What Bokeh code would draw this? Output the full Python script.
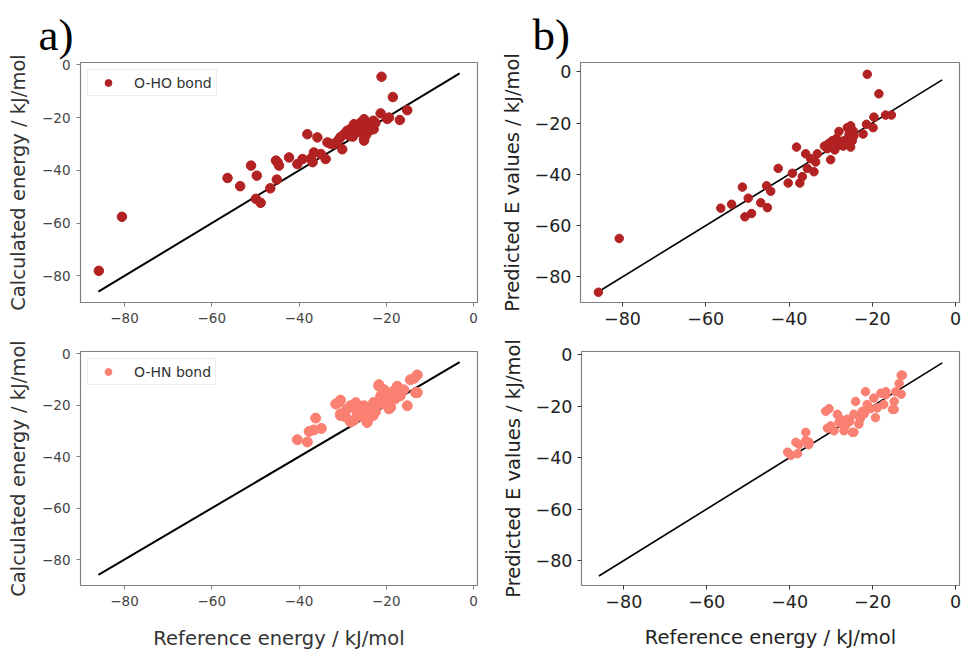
from bokeh.plotting import figure
from bokeh.layouts import column, row
from bokeh.models import FixedTicker, Legend, LegendItem, Title
from bokeh.embed import file_html
from bokeh.resources import INLINE

# ---------------- data ----------------
# a) top: O-HO bond, reference vs calculated
ref_a_oho = [-85.9, -80.6, -56.4, -53.5, -51.0, -49.7, -49.9, -48.8, -46.6, -45.1, -45.3, -44.6, -44.9,
             -42.3, -40.4, -39.2, -38.1, -36.9, -37.3, -35.8, -35.0, -36.6, -33.9, -33.5, -32.8,
             -32.0, -30.1, -30.5, -29.7, -29.0, -28.5, -28.0, -27.4, -27.0, -26.5, -26.2, -25.8,
             -25.5, -25.1, -25.1, -25.1, -24.6, -24.2, -23.8, -22.9, -22.5, -21.3, -21.1, -19.8,
             -19.4, -18.5, -16.9, -15.2, -31.0, -27.7, -24.0, -23.0]
calc_a_oho = [-78.1, -57.6, -42.9, -46.0, -38.2, -42.0, -50.8, -52.3, -46.8, -43.5, -36.3, -38.2, -37.0,
              -35.1, -37.6, -35.7, -26.3, -36.9, -35.5, -27.5, -33.8, -33.2, -35.7, -29.4, -29.9,
              -30.0, -32.0, -27.4, -26.3, -25.0, -26.8, -24.0, -22.5, -24.5, -23.0, -25.5, -21.8,
              -24.0, -20.6, -28.2, -28.7, -26.5, -22.5, -24.8, -24.4, -22.0, -18.4, -4.5, -20.5,
              -20.0, -12.2, -20.9, -17.2, -28.5, -27.2, -23.3, -21.2]

# b) top: O-HO bond, reference vs predicted
ref_b_oho = [-85.8, -80.8, -56.4, -53.8, -51.2, -49.8, -50.6, -49.0, -46.8, -45.2, -45.4, -44.4, -42.6,
             -40.2, -39.2, -38.2, -37.4, -36.8, -36.0, -35.6, -34.8, -34.0, -33.6, -33.2, -30.8,
             -30.0, -29.6, -28.4, -28.0, -26.8, -26.0, -25.2, -25.2, -24.8, -24.4, -22.2, -21.4,
             -21.2, -19.8, -19.6, -18.4, -16.8, -15.4, -30.5, -29.0, -27.5, -27.0, -26.2, -25.6,
             -24.6, -31.5, -28.6]
pred_b_oho = [-86.0, -65.0, -53.2, -51.7, -45.0, -49.3, -56.6, -55.3, -51.1, -53.0, -44.5, -46.6, -37.7,
              -43.4, -39.6, -29.4, -43.4, -40.9, -32.0, -37.7, -33.9, -39.0, -35.2, -32.0, -30.0,
              -34.3, -26.9, -28.8, -23.3, -26.9, -21.8, -21.1, -29.4, -26.9, -25.0, -24.3, -20.5,
              -1.0, -21.8, -17.7, -8.6, -16.9, -16.9, -28.0, -30.5, -27.5, -29.0, -28.0, -24.5,
              -23.0, -29.0, -26.0]

# a) bottom: O-HN bond, reference vs calculated
ref_a_ohn = [-40.4, -38.1, -37.7, -36.2, -36.6, -34.9, -31.6, -30.5, -30.5, -30.9, -30.5, -29.3,
             -28.2, -28.2, -27.4, -26.7, -26.0, -25.1, -24.4, -24.4, -24.0, -23.5, -22.9, -22.5,
             -21.7, -21.7, -21.3, -21.0, -20.2, -19.8, -19.4, -19.0, -18.3, -18.0, -17.5, -16.8,
             -16.0, -15.2, -14.5, -13.3, -12.9, -12.9, -13.6, -27.0, -25.5, -23.0, -29.0, -20.5]
calc_a_ohn = [-33.4, -34.3, -30.2, -25.0, -29.6, -29.0, -19.5, -18.0, -24.0, -18.9, -23.3, -24.6,
              -26.5, -20.2, -25.8, -22.7, -21.5, -20.2, -26.7, -26.5, -23.0, -21.0, -18.9, -22.5,
              -12.0, -12.6, -16.4, -19.5, -18.3, -15.1, -21.4, -20.8, -14.5, -17.5, -12.6, -16.4,
              -14.0, -20.2, -10.1, -15.1, -8.2, -15.1, -9.5, -19.0, -24.5, -24.0, -21.5, -14.0]

# b) bottom: O-HN bond, reference vs predicted
ref_b_ohn = [-40.5, -39.7, -38.1, -38.5, -37.7, -36.1, -36.1, -35.3, -35.4, -31.3, -30.5, -30.9,
             -30.1, -29.3, -28.5, -28.1, -26.9, -26.1, -24.9, -24.5, -24.5, -24.1, -23.3, -22.5,
             -21.7, -21.3, -19.7, -19.3, -18.9, -18.0, -17.3, -16.8, -16.8, -15.2, -14.8, -14.8,
             -14.4, -13.6, -13.1, -13.1, -12.8, -27.5, -26.5, -25.5, -23.0, -22.0, -20.5, -27.8]
pred_b_ohn = [-37.9, -39.1, -38.5, -34.1, -34.9, -30.2, -33.4, -34.1, -35.0, -22.0, -21.0, -28.6,
              -27.7, -29.6, -23.2, -26.4, -29.6, -25.1, -30.2, -30.2, -23.2, -18.2, -27.0, -22.0,
              -14.4, -19.4, -16.9, -24.5, -20.7, -15.0, -19.4, -15.6, -14.4, -21.3, -18.2, -21.3,
              -14.4, -11.2, -8.0, -15.4, -8.0, -27.0, -27.5, -26.0, -25.0, -23.0, -21.0, -25.0]

# identity (y = x) reference line
line_x = [-86.0, -3.2]
line_y = [-86.0, -3.2]

tick_values = [-80, -60, -40, -20, 0]
tick_labels = {-80: "\u221280", -60: "\u221260", -40: "\u221240", -20: "\u221220", 0: "0"}

label_x = "Reference energy / kJ/mol"
label_calc = "Calculated energy / kJ/mol"
label_pred = "Predicted E values / kJ/mol"

FIREBRICK = "#b22222"
SALMON = "#fa8072"
FONT = "DejaVu Sans"


def make_fig(w, h, b_left, b_right, b_top, b_bottom, xr, yr, small):
    p = figure(width=w, height=h, x_range=xr, y_range=yr,
               output_backend="svg", toolbar_location=None,
               min_border_left=b_left, min_border_right=b_right,
               min_border_top=b_top, min_border_bottom=b_bottom)
    p.grid.visible = False
    p.background_fill_color = "white"
    p.border_fill_color = "white"
    p.outline_line_color = "#808080"
    p.outline_line_width = 1.2
    tick_size = "13.5px" if small else "17.5px"
    tick_col = "#444444" if small else "#222222"
    for ax in (p.xaxis[0], p.yaxis[0]):
        ax.ticker = FixedTicker(ticks=tick_values)
        ax.major_label_overrides = tick_labels
        ax.axis_line_color = None
        ax.major_tick_in = 0
        ax.major_tick_out = 4
        ax.major_tick_line_color = "#808080" if small else "#333333"
        ax.minor_tick_line_color = None
        ax.major_label_text_font = FONT
        ax.major_label_text_font_size = tick_size
        ax.major_label_text_color = tick_col
        ax.axis_label_text_font = FONT
        ax.axis_label_text_font_style = "normal"
        ax.axis_label_text_font_size = "19.5px"
        ax.axis_label_text_color = "#333333" if small else "#222222"
    return p


def add_title(p, text, offset):
    t = Title(text=text, text_font="Liberation Serif", text_font_size="45px",
              text_font_style="normal", text_color="black", align="left",
              offset=offset, standoff=6)
    p.add_layout(t, "above")


TOP_H = 335
BOT_H = 317

# ---- a) top ----
tl = make_fig(480, TOP_H, 80, 3, 62, 33, (-90.1, 0.9), (-90.1, 0.9), True)
tl.yaxis.axis_label = label_calc
tl.yaxis.major_label_standoff = 6
tl.yaxis.axis_label_standoff = 9
tl.xaxis.major_label_standoff = 6
tl.line(line_x, line_y, line_color="black", line_width=2)
r1 = tl.scatter(ref_a_oho, calc_a_oho, size=9.5, fill_color=FIREBRICK, line_color=FIREBRICK)
leg1 = Legend(items=[LegendItem(label="O-HO bond", renderers=[r1])], location="top_left",
              margin=7, padding=4, glyph_width=32, glyph_height=17, label_height=17,
              label_standoff=10, label_text_font=FONT, label_text_font_size="14px",
              label_text_color="#333333", border_line_color="#d9d9d9",
              background_fill_color="white")
tl.add_layout(leg1, "center")
add_title(tl, "a)", -42)

# ---- b) top ----
tr = make_fig(483, TOP_H, 100, 4, 62, 28, (-90.1, 0.96), (-90.0, 3.6), False)
tr.yaxis.axis_label = label_pred
tr.yaxis.major_label_standoff = 5
tr.yaxis.axis_label_standoff = 8
tr.xaxis.major_label_standoff = 5
tr.line(line_x, line_y, line_color="black", line_width=1.6)
tr.scatter(ref_b_oho, pred_b_oho, size=8.5, fill_color=FIREBRICK, line_color=FIREBRICK)
add_title(tr, "b)", -48)

# ---- a) bottom ----
bl = make_fig(480, BOT_H, 80, 3, 16, 60, (-90.1, 0.9), (-90.1, 0.9), True)
bl.yaxis.axis_label = label_calc
bl.xaxis.axis_label = label_x
bl.yaxis.major_label_standoff = 6
bl.yaxis.axis_label_standoff = 9
bl.xaxis.major_label_standoff = 6
bl.xaxis.axis_label_standoff = 18
bl.line(line_x, line_y, line_color="black", line_width=2)
r2 = bl.scatter(ref_a_ohn, calc_a_ohn, size=10, fill_color=SALMON, line_color=SALMON)
leg2 = Legend(items=[LegendItem(label="O-HN bond", renderers=[r2])], location="top_left",
              margin=7, padding=4, glyph_width=32, glyph_height=17, label_height=17,
              label_standoff=10, label_text_font=FONT, label_text_font_size="14px",
              label_text_color="#333333", border_line_color="#d9d9d9",
              background_fill_color="white")
bl.add_layout(leg2, "center")

# ---- b) bottom ----
br = make_fig(483, BOT_H, 101, 4, 14, 64, (-90.2, 0.96), (-89.7, 1.2), False)
br.yaxis.axis_label = label_pred
br.xaxis.axis_label = label_x
br.yaxis.major_label_standoff = 5
br.yaxis.axis_label_standoff = 8
br.xaxis.major_label_standoff = 5
br.xaxis.axis_label_standoff = 15
br.line(line_x, line_y, line_color="black", line_width=1.6)
br.scatter(ref_b_ohn, pred_b_ohn, size=8.5, fill_color=SALMON, line_color=SALMON)

layout = column(row(tl, tr), row(bl, br))

open("out.html", "w").write(file_html(layout, INLINE))
